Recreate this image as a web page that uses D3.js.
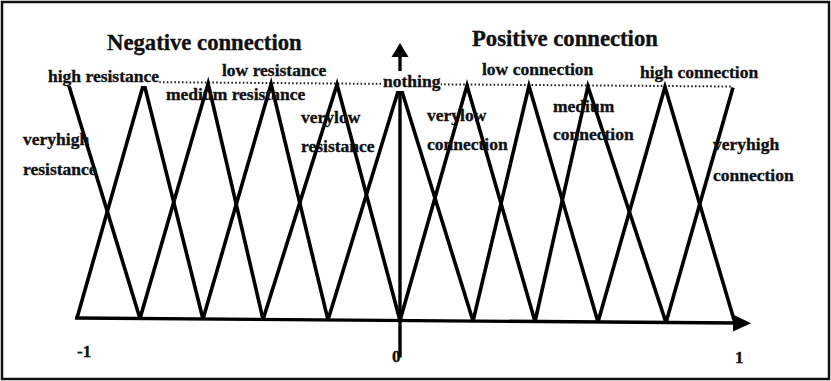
<!DOCTYPE html>
<html>
<head>
<meta charset="utf-8">
<script src="https://cdn.jsdelivr.net/npm/d3@7"></script>
<style>
  html, body { margin: 0; padding: 0; background: #fff; }
  svg { display: block; }
  text { font-family: "Liberation Serif", "Times New Roman", serif; font-weight: bold; fill: #111; stroke: #111; stroke-width: 0.35px; }
</style>
</head>
<body>
<svg id="chart" width="831" height="381"></svg>
<script>
// ---------------- data ----------------
const setNames = ["veryhigh resistance", "high resistance", "medium resistance", "low resistance",
  "verylow resistance", "nothing", "verylow connection", "low connection",
  "medium connection", "high connection", "veryhigh connection"];
// peak (membership = 1) of each fuzzy set
const peaks = [-1.028, -0.793, -0.594, -0.399, -0.195, 0, 0.200, 0.385, 0.561, 0.791, 0.994];
// feet (membership = 0) points on the axis
const feet = [-1, -0.805, -0.610, -0.424, -0.223, 0, 0.218, 0.403, 0.591, 0.794, 1];
const xTickValues = [-1, 0, 1];
const xTickLabels = ["-1", "0", "1"];
const groupTitles = ["Negative connection", "Positive connection"];
const labelLines = [["veryhigh", "resistance"], ["high resistance"], ["medium resistance"], ["low resistance"],
  ["verylow", "resistance"], ["nothing"], ["verylow", "connection"], ["low connection"],
  ["medium", "connection"], ["high connection"], ["veryhigh", "connection"]];

// ---------------- layout ----------------
const W = 831, H = 381;
const svg = d3.select("#chart");
const x = d3.scaleLinear().domain([-1, 0, 1]).range([77, 400, 735]);
const y = d3.scaleLinear().domain([0, 1]).range([320.5, 85]);
const labelPos = [[[23, 145], [23, 175]], [[48, 82]], [[166, 100]], [[222, 76]],
  [[301, 123], [301, 152]], [[383, 87]], [[427, 121], [427, 150]], [[482, 75]],
  [[553, 112], [553, 140]], [[640, 78]], [[713, 150], [713, 181]]];
const titlePos = [[107, 50], [472, 46]];
const tickDx = [0, -8, 0], tickDy = [357, 362, 363];

// frame
svg.append("rect").attr("x", 2).attr("y", 2).attr("width", 827).attr("height", 377)
  .attr("fill", "#fff").attr("stroke", "#111").attr("stroke-width", 2.5);

// plot group with the slight tilt of the original scan
const slope = Math.atan(5 / 658) * 180 / Math.PI;
const g = svg.append("g")
  .attr("transform", `translate(${x(0)},${y(0)}) skewY(${slope}) translate(${-x(0)},${-y(0)})`);

// dotted line through the peaks
const topY = y(1) - 1;
g.append("line").attr("x1", x(peaks[0])).attr("x2", x(peaks[peaks.length - 1]))
  .attr("y1", topY).attr("y2", topY)
  .attr("stroke", "#222").attr("stroke-width", 2).attr("stroke-dasharray", "1.6,2.2");

// titles
groupTitles.forEach((t, i) => {
  svg.append("text").attr("x", titlePos[i][0]).attr("y", titlePos[i][1])
    .attr("font-size", 22.7).text(t);
});

// labels (those sitting on the dotted line mask it)
const labelLayer = svg.append("g");
labelLines.forEach((lines, i) => {
  lines.forEach((t, j) => {
    const [lx, ly] = labelPos[i][j];
    const tx = labelLayer.append("text").attr("x", lx).attr("y", ly).attr("font-size", 17.5).text(t);
    if (ly >= topY - 3 && ly <= topY + 8) {
      const b = tx.node().getBBox();
      labelLayer.insert("rect", () => tx.node())
        .attr("x", b.x).attr("y", b.y).attr("width", b.width).attr("height", b.height)
        .attr("fill", "#fff");
    }
  });
});

// membership functions
const line = d3.line().x(d => x(d[0])).y(d => y(d[1]));
setNames.forEach((name, i) => {
  const pts = [];
  if (i > 0) pts.push([feet[i - 1], 0]);
  pts.push([peaks[i], 1]);
  if (i < setNames.length - 1) pts.push([feet[i + 1], 0]);
  g.append("path").attr("class", "mf").attr("data-name", name).attr("d", line(pts))
    .attr("fill", "none").attr("stroke", "#000").attr("stroke-width", 3.6)
    .attr("stroke-linejoin", "miter");
});

// x axis with arrow
g.append("line").attr("x1", x(-1) - 2).attr("x2", x(1) + 2).attr("y1", y(0)).attr("y2", y(0))
  .attr("stroke", "#000").attr("stroke-width", 3.4);
g.append("path")
  .attr("d", `M${x(1) - 2},${y(0) - 8.5} L${x(1) + 16},${y(0)} L${x(1) - 2},${y(0) + 8.5} Z`)
  .attr("fill", "#000");

// y axis with arrow
g.append("line").attr("x1", x(0)).attr("x2", x(0)).attr("y1", y(0) + 37).attr("y2", 56)
  .attr("stroke", "#000").attr("stroke-width", 3.4);
g.append("path")
  .attr("d", `M${x(0) - 8.5},57 L${x(0)},43 L${x(0) + 8.5},57 Z`)
  .attr("fill", "#000");

// tick labels
xTickValues.forEach((v, i) => {
  svg.append("text").attr("x", x(v) + tickDx[i]).attr("y", tickDy[i])
    .attr("font-size", 17).text(xTickLabels[i]);
});
</script>
</body>
</html>
